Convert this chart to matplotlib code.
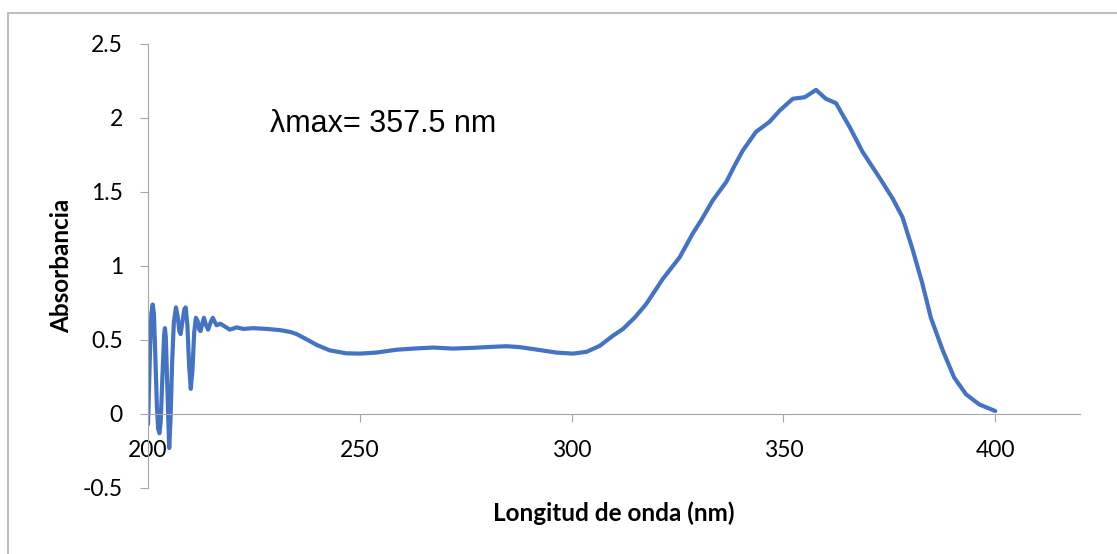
import matplotlib
matplotlib.use('Agg')
import matplotlib.pyplot as plt
from matplotlib.patches import Rectangle

# spectrum (nm, absorbance)
wavelength = [200.0, 200.5, 200.8, 201.1, 201.4, 201.7, 202.1, 202.4, 202.7, 203.0,
              203.4, 203.8, 204.0, 204.2, 204.6, 205.0, 205.3, 205.7, 206.1, 206.6,
              207.0, 207.4, 207.7, 208.1, 208.6, 208.9, 209.3, 209.7, 210.1, 210.5,
              210.9, 211.3, 211.7, 212.1, 212.4, 212.8, 213.2, 213.7, 214.2, 214.8,
              215.3, 215.8, 216.2, 217.1, 218.2, 219.3, 220.9, 222.5, 224.8, 228.0,
              231.1, 233.5, 235.1, 237.4, 239.8, 242.9, 246.8, 250.0, 253.9, 258.6,
              262.6, 267.3, 272.0, 276.7, 281.4, 284.6, 287.7, 292.5, 296.4, 300.3,
              303.5, 306.6, 309.7, 312.1, 315.0, 317.6, 321.5, 325.5, 328.6, 330.6,
              333.3, 336.5, 338.5, 340.4, 343.5, 346.7, 349.1, 352.2, 355.0, 357.7,
              360.0, 362.4, 365.6, 368.7, 372.6, 375.8, 378.1, 380.5, 382.8, 384.8,
              387.6, 390.3, 393.1, 396.2, 400.0]
absorbance = [-0.07, 0.45, 0.68, 0.74, 0.68, 0.42, 0.05, -0.10, -0.13, -0.05,
              0.25, 0.53, 0.58, 0.52, 0.15, -0.23, -0.05, 0.35, 0.62, 0.72,
              0.66, 0.56, 0.54, 0.62, 0.71, 0.72, 0.60, 0.33, 0.17, 0.30,
              0.55, 0.65, 0.63, 0.57, 0.56, 0.61, 0.65, 0.60, 0.57, 0.62,
              0.65, 0.62, 0.60, 0.61, 0.59, 0.57, 0.585, 0.575, 0.58, 0.575,
              0.567, 0.555, 0.54, 0.505, 0.467, 0.43, 0.41, 0.408, 0.415, 0.434,
              0.442, 0.449, 0.442, 0.447, 0.454, 0.458, 0.452, 0.432, 0.415, 0.408,
              0.42, 0.46, 0.528, 0.574, 0.655, 0.743, 0.912, 1.059, 1.22, 1.31,
              1.443, 1.568, 1.68, 1.78, 1.906, 1.974, 2.05, 2.13, 2.14, 2.19,
              2.13, 2.10, 1.94, 1.77, 1.60, 1.455, 1.33, 1.11, 0.88, 0.65,
              0.43, 0.246, 0.133, 0.065, 0.02]

x_ticks = [200, 250, 300, 350, 400]
y_ticks = [-0.5, 0, 0.5, 1, 1.5, 2, 2.5]
y_ticklabels = ['-0.5', '0', '0.5', '1', '1.5', '2', '2.5']

grey = '#a6a6a6'

fig = plt.figure(figsize=(11.17, 5.54), dpi=100)
ax = fig.add_axes([148/1117, 1 - 488/554, (1080 - 148)/1117, (488 - 44)/554])

ax.plot(wavelength, absorbance, color='#4472C4', lw=3,
        solid_capstyle='round', solid_joinstyle='round')

ax.set_xlim(200, 420)
ax.set_ylim(-0.5, 2.5)

for s in ['top', 'right']:
    ax.spines[s].set_visible(False)
ax.spines['left'].set_color(grey)
ax.spines['bottom'].set_position(('data', 0))
ax.spines['bottom'].set_color(grey)

ax.set_xticks(x_ticks)
ax.set_xticklabels([str(t) for t in x_ticks], fontsize=16.5, family='Lato')
ax.set_yticks(y_ticks)
ax.set_yticklabels(y_ticklabels, fontsize=16.5, family='Lato')
ax.tick_params(axis='x', length=6, color=grey, pad=13)
ax.tick_params(axis='y', length=6, color=grey, pad=12)

ax.set_xlabel('Longitud de onda (nm)', fontsize=17.5, fontweight='bold', family='Lato')
ax.xaxis.set_label_coords(0.5, -0.03)
ax.set_ylabel('Absorbancia', fontsize=17.5, fontweight='bold', family='Lato')
ax.yaxis.set_label_coords(-0.08, 0.5)

ax.text(228.8, 1.96, 'λmax= 357.5 nm', fontsize=22, family='Liberation Sans',
        ha='left', va='center')

# chart frame, cropped on the right and bottom
fig.add_artist(Rectangle((8/1117, -0.2), 1.5, 1.2 - 13/554, transform=fig.transFigure,
                         fill=False, ec='#bfbfbf', lw=1.5))

fig.savefig('out.png', dpi=100)
